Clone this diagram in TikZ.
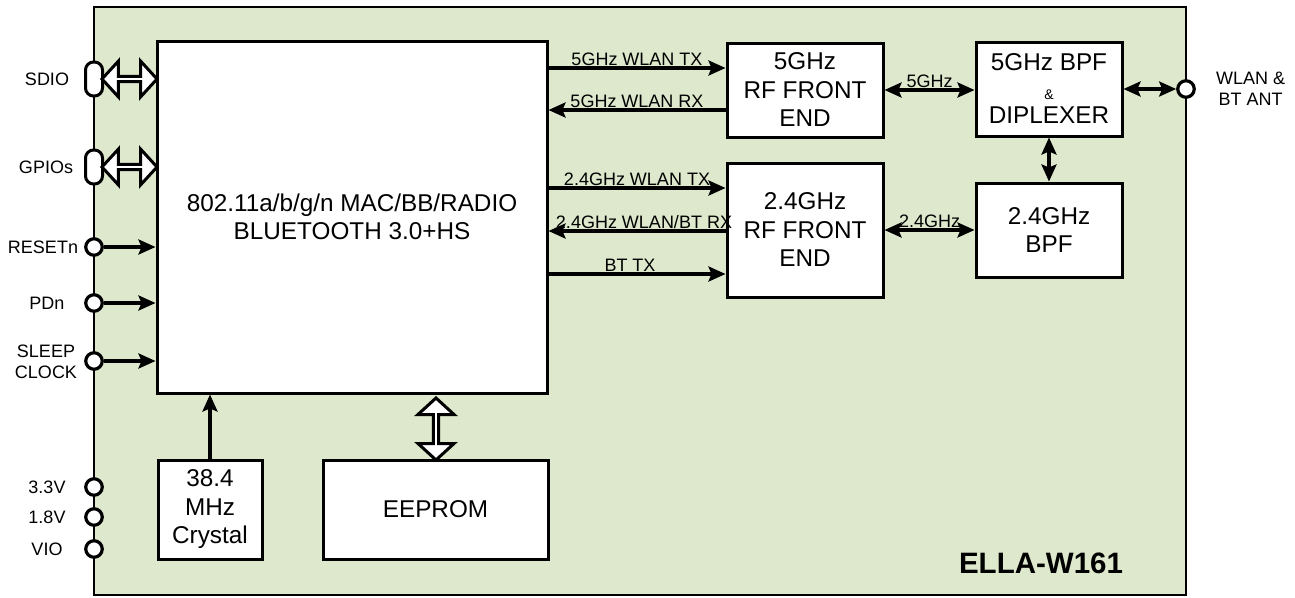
\documentclass[tikz,border=0pt]{standalone}
\usepackage{fontspec}
\setmainfont{Liberation Sans}
\usetikzlibrary{arrows.meta,positioning,shapes.arrows}
\definecolor{boardgreen}{RGB}{221,232,204}
\tikzstyle{block} = [draw,line width=3pt,fill=white,inner sep=0,align=center,font=\fontsize{24.3}{28.5}\selectfont]
\tikzstyle{port} = [draw,line width=3.2pt,circle,fill=white,inner sep=0,minimum size=16.5pt]
\tikzstyle{pill} = [draw,line width=3pt,fill=white,rounded corners=8pt,minimum width=17pt,minimum height=34pt,inner sep=0]
\tikzstyle{bus} = [draw,line width=3pt,fill=white,double arrow,double arrow head extend=8.5pt,double arrow tip angle=95,minimum width=36pt,inner sep=0]
\tikzstyle{sig} = [line width=3.2pt,-{Stealth[length=17pt,width=15pt,inset=3pt]}]
\tikzstyle{bisig} = [line width=3.2pt,{Stealth[length=17pt,width=15pt,inset=3pt]}-{Stealth[length=17pt,width=15pt,inset=3pt]}]
\tikzstyle{lbl} = [font=\fontsize{18}{20.5}\selectfont,align=center,inner sep=1pt]

\begin{document}
\begin{tikzpicture}[x=1pt,y=-1pt]
      \useasboundingbox (0,0) rectangle (1295,597);
      \draw[fill=boardgreen,line width=2.2pt] (94,7) rectangle (1186,595);
      % main chip and front ends
      \node[block,minimum width=390pt,minimum height=352pt] (mac) at (352,217) {802.11a/b/g/n MAC/BB/RADIO\\BLUETOOTH 3.0+HS};
      \node[block,minimum width=156pt,minimum height=94pt] (rf5) at (805,90) {5GHz\\RF FRONT\\END};
      \node[block,minimum width=156pt,minimum height=134pt] (rf24) at (805,230) {2.4GHz\\RF FRONT\\END};
      \node[block,minimum width=146pt,minimum height=94pt] (bpf5) at (1049,89) {5GHz BPF\\{\fontsize{14}{16}\selectfont\&}\\[-4pt]DIPLEXER};
      \node[block,minimum width=146pt,minimum height=94pt] (bpf24) at (1049,230) {2.4GHz\\BPF};
      \node[block,minimum width=104pt,minimum height=99pt] (xtal) at (210,509.5) {38.4\\MHz\\Crystal};
      \node[block,minimum width=225pt,minimum height=99pt] (eeprom) at (435.5,509.5) {EEPROM};
      \node[font=\fontsize{29.5}{33}\selectfont\bfseries] (name) at (1041,563) {ELLA-W161};
      % pins on the left edge
      \node[pill] (sdio) at (94,79) {};
      \node[pill] (gpio) at (94,167) {};
      \node[port] (reset) at (94,247) {};
      \node[port] (pdn) at (94,303) {};
      \node[port] (sleep) at (94,361) {};
      \node[port] (v33) at (94,487) {};
      \node[port] (v18) at (94,517) {};
      \node[port] (vio) at (94,549) {};
      \node[port] (ant) at (1186,89) {};
      \node[lbl] at (47,79) {SDIO};
      \node[lbl] at (46,167) {GPIOs};
      \node[lbl] at (43,247) {RESETn};
      \node[lbl] at (47,303) {PDn};
      \node[lbl] at (46,362) {SLEEP\\CLOCK};
      \node[lbl] at (47,487) {3.3V};
      \node[lbl] at (47,517) {1.8V};
      \node[lbl] at (47,549) {VIO};
      \node[lbl,right=19pt of ant] {WLAN \&\\BT ANT};
      % buses
      \node[bus,minimum height=55pt] (sdiobus) at (129.5,79) {};
      \node[bus,minimum height=55pt] (gpiobus) at (129.5,167) {};
      \node[bus,minimum height=62pt,rotate=90] (eebus) at (436,429) {};
      % signals
      \coordinate (tx5) at ([yshift=22pt]rf5.west);
      \coordinate (rx5) at ([yshift=-20pt]rf5.west);
      \coordinate (tx24) at ([yshift=42pt]rf24.west);
      \coordinate (rx24) at ([yshift=-1pt]rf24.west);
      \coordinate (bttx) at ([yshift=-44pt]rf24.west);
      \draw[sig] (tx5 -| mac.east) -- (tx5) node[lbl,midway,above]{5GHz WLAN TX};
      \draw[sig] (rx5) -- (rx5 -| mac.east) node[lbl,midway,above]{5GHz WLAN RX};
      \draw[sig] (tx24 -| mac.east) -- (tx24) node[lbl,midway,above]{2.4GHz WLAN TX};
      \draw[sig] (rx24) -- (rx24 -| mac.east) node[lbl,midway,above,xshift=7pt]{2.4GHz WLAN/BT RX};
      \draw[sig] (bttx -| mac.east) -- (bttx) node[lbl,midway,above,xshift=-7pt]{BT TX};
      \draw[bisig] (rf5.east) -- (rf5.east -| bpf5.west) node[lbl,midway,above]{5GHz};
      \draw[bisig] (rf24.east) -- (bpf24.west) node[lbl,midway,above]{2.4GHz};
      \draw[bisig] (bpf5.south) -- (bpf24.north);
      \draw[bisig] (bpf5.east) -- (ant.west);
      \draw[sig] (reset.east) -- (reset -| mac.west);
      \draw[sig] (pdn.east) -- (pdn -| mac.west);
      \draw[sig] (sleep.east) -- (sleep -| mac.west);
      \draw[sig] (xtal.north) -- (xtal |- mac.south);
    \end{tikzpicture}
\end{document}
